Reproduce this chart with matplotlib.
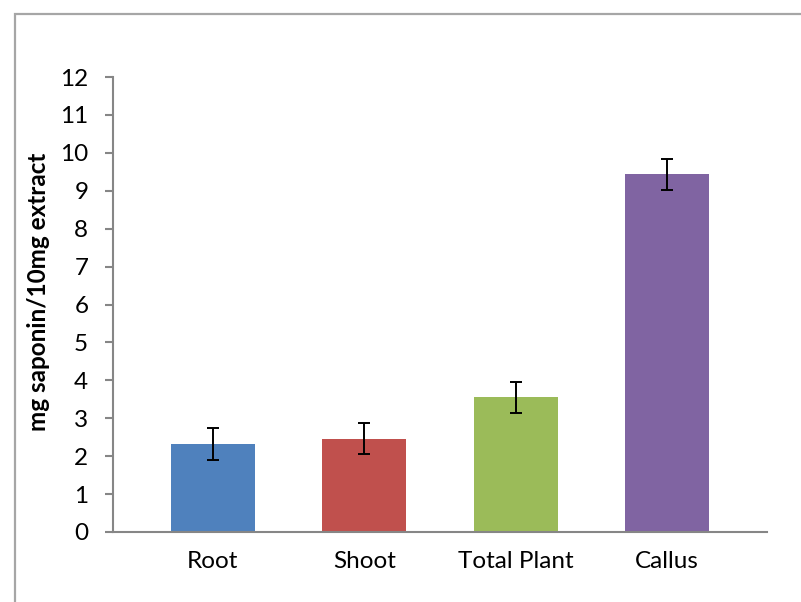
import matplotlib
matplotlib.use("Agg")
import matplotlib.pyplot as plt
from matplotlib.patches import Rectangle

categories = ["Root", "Shoot", "Total Plant", "Callus"]
values = [2.32, 2.46, 3.55, 9.44]
errors = [0.41, 0.41, 0.40, 0.41]
colors = ["#4F81BD", "#C0504D", "#9BBB59", "#8064A2"]
yticks = list(range(0, 13))

plt.rcParams['font.family'] = ['Lato', 'DejaVu Sans']

fig = plt.figure(figsize=(8.01, 6.02), dpi=100)
fig.patch.set_facecolor("white")

# outer chart border (cropped frame)
fig.add_artist(Rectangle((15/801, -0.05), 1.0, 1 - 13.5/602 + 0.05,
                         transform=fig.transFigure, fill=False,
                         edgecolor="#A6A6A6", linewidth=1.6, clip_on=False))

ax = fig.add_axes([113/801, 1 - 532/602, (767 - 113)/801, (532 - 77)/602])
x = range(len(categories))
ax.bar(x, values, width=0.556, color=colors, zorder=2)
ax.errorbar(x, values, yerr=errors, fmt="none", ecolor="black",
            elinewidth=1.4, capsize=4.5, capthick=1.4, zorder=3)

ax.set_xlim(-0.66, 3.66)
ax.set_ylim(0, 12)
ax.set_yticks(yticks)
ax.set_yticklabels([str(t) for t in yticks])
ax.set_xticks(list(x))
ax.set_xticklabels(categories)

for s in ["top", "right"]:
    ax.spines[s].set_visible(False)
for s in ["left", "bottom"]:
    ax.spines[s].set_color("#868686")
    ax.spines[s].set_linewidth(1.5)

ax.tick_params(axis="y", direction="out", length=5.8, width=1.5,
               color="#868686", labelsize=17.5, pad=12, labelcolor="black")
ax.tick_params(axis="x", length=0, labelsize=17.5, pad=14, labelcolor="black")

fig.text(39/801, 1 - 292/602, "mg saponin/10mg extract", rotation=90,
         ha="center", va="center", fontsize=17.5, fontweight="bold")

fig.savefig("out.png", dpi=100, facecolor="white")
